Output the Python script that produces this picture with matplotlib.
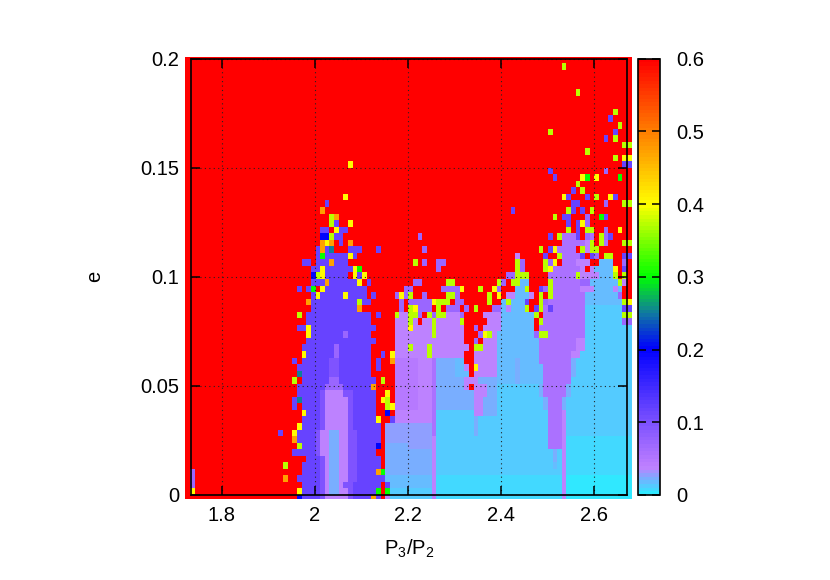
import numpy as np
import matplotlib
matplotlib.use("Agg")
import matplotlib.pyplot as plt
from matplotlib.colors import LinearSegmentedColormap, Normalize

plt.rcParams['font.family'] = ['Liberation Sans', 'DejaVu Sans']
plt.rcParams['mathtext.fontset'] = 'custom'
plt.rcParams['mathtext.rm'] = 'Liberation Sans'
plt.rcParams['mathtext.it'] = 'Liberation Sans'

# value of each letter used in the grid rows
LEVELS = {'d': .002, 'f': .006, 'c': .010, 'h': .014, 'a': .018, 'e': .022, 'k': .029,
          'l': .036, 'm': .045, 'p': .058, 'u': .072, 'w': .095, 'v': .115,
          'b': .2, 'B': .25, 'G': .3, 'g': .37, 'y': .4, 'o': .47, 'r': .6}

# cells per row, from top row to bottom row; "a-bX" = columns a..b have level X,
# later entries win; anything unlisted is the 0.6 (red) level
ROWS = [
 "", "81g", "", "", "", "84g", "", "", "92g", "91v", "93g", "78g 92v", "90v 92g",
 "94-95g", "86g", "92g 94-95y", "35y 94-95v", "78v 90u",
 "79v 85y 86G 88y 93G", "84g", "83v 85g", "34y 81y 82v 86v 88g 91y 92v",
 "30v 83-84v 90u 94-95g", "29o 70v 82g 83v 85v 87g",
 "31g 32o 79g 81-82v 86u 89G 90v", "31g 32v 35y 82v 84v 85y 86u",
 "29-30v 32y 33-34v 82g 84v 86-87g 90u 93y",
 "29-30b 31g 32-33v 50u 78v 80g 81-83p 84v 86u 87p 89g 90u 91v",
 "29o 30y 31o 33v 35o 81-85p 86l 87g 89g 90p 94-95g",
 "28v 29o 30v 31B 35-37v 41v 51u 76g 78v 79y 80-83p 85g 86l 87-88g",
 "28v 29G 30-34v 35y 36v 71l 77v 80g 81-84p 85v 87v 88u 90-91g 94-95v",
 "25-26v 28-30v 31o 32-34v 49g 51u 54-55u 71g 72u 77g 78u 79y 81-83p 84-86l 89-91a 94u",
 "27-28v 29y 30-35v 36y 37G 54u 71g 72u 77g 78y 79-84p 85l 87l 88-91a 92y 94v",
 "27b 28g 29y 30-34v 36y 37v 38y 69-70u 71-73g 78-83p 84g 85-88l 89-91a 92g 94g",
 "27-29v 30o 31-36v 37y 39v 49-50u 56-57g 67g 68u 70-71g 72-73a 78g 79-84p 85-86u 87-92a 93g 94l",
 "24v 26v 27G 29y 30-38v 47-48u 55-58u 59y 63g 66y 67u 71-72a 73g 76v 77u 78g 79-84p 85-87l 88-91a 92l 93a",
 "27v 28y 29-38v 34y 40v 45u 46y 47u 48g 51u 56-57g 58u 65g 67y 69-70l 71-73a 74l 76g 78g 79-85p 86-92a 93u",
 "26o 27-36v 37g 38-39v 46u 48-52u 53y 54-56g 58-59u 65g 68a 69g 70-72a 73v 76g 77u 78-85p 86-93a 94g 95y",
 "27-36v 37o 46u 48g 49y 50-52u 54g 56-58u 60u 62g 66-67u 68a 69l 70-72a 73g 75v 76g 77p 78v 79-85p 86-93h 94-95v",
 "24g 26-39v 41v 45g 46-47l 48-49g 50u 52g 53u 54-55g 56-58l 59u 64-67l 68-74a 75g 77-85p 86-93h 94-95g",
 "26-39v 45-47l 48g 49l 51-52l 53g 54-58l 59g 65-67l 68-74a 76g 77-85p 86-93h 94-95u",
 "24-25v 26y 27-40v 45-47l 48y 49-52l 53g 54-59l 62u 64-67l 68-74a 76-85p 86-95h",
 "26y 27-39v 34u 45-52l 53g 54-59l 63u 64y 65g 66l 67-74a 75u 76-77g 78-85p 86-95h",
 "26-40v 45-59l 62u 64-66l 67-75a 76-83p 84-85l 86-95h",
 "25-39v 32u 45-47l 48g 49-51l 52g 53-60l 62-63g 64-66l 67-75a 76-83p 84-85l 86-95h",
 "25y 26-39v 32u 42v 44y 45-51l 52g 53-59l 62-66l 67-75a 76-82p 83-84l 85-95h",
 "23v 25-39v 31-32w 41v 44o 45-49m 50-52l 53p 54-57e 58-59a 62-66l 67-75a 71e 76-82p 83e 84-95h",
 "24-39v 31-32w 41v 45-49m 50-52l 53p 54-57e 58-59a 60l 62y 63-66l 67-76a 71e 77-82p 83e 84-95h",
 "24B 25-39v 31-32w 45-49m 50-52l 53p 54-57e 58-60a 62-66l 67-76a 71e 77-82p 83e 84-95h",
 "23g 25-40v 31-32u 42g 45-49m 50-52l 53p 54-59e 60-62l 63-66e 67-76a 71e 77-82p 83-95h",
 "24-39v 30-33u 40o 45-49m 50-52l 53p 54-59e 60l 62-64l 65-66e 67-75h 76e 77-81p 82e 83-95c",
 "24-40v 29-35w 30-33l 43y 45-49m 50-52l 53p 54-61e 62-64l 65-66e 67-75h 76e 77-81p 82e 83-95c",
 "23v 24B 25-40v 29-35w 30-34l 42y 43g 45-49m 50-52l 53p 54-61e 62-63l 64-66e 67-77h 77e 78-80p 81e 82-95c",
 "23v 25v 26-40v 29-35w 30-34l 43g 44y 45-49m 50-52l 53p 54-61e 62-63l 64-66e 67-77h 77e 78-80p 81e 82-95c",
 "25y 26-40v 29-35w 30-34l 43b 45-52l 53p 54-61h 62-63l 64-66e 67-77h 78-80p 81l 82-95c",
 "25-40v 29-35w 30-34l 41y 44v 45-52l 53p 54-77h 62e 78-80p 81l 82-95c",
 "24y 25-41v 29-35w 30-34l 43-52k 53p 54-77h 62e 78-80p 81l 82-95c",
 "20v 23y 24-41v 28-36w 29-34l 31-32e 43-52k 53p 54-77h 62e 78-80p 81l 82-95c",
 "23o 24-41v 28-36w 29-34l 31-32e 43-52k 53l 54-77c 78-80p 81l 82-95f",
 "24g 25-40v 41b 28-36w 29-34l 31-32e 43-47e 48-52k 53l 54-77c 78-80p 81l 82-95f",
 "23-40v 28-36w 29-34l 31-32e 43-52e 53l 54-80c 79e 81l 82-95f",
 "26-41v 29-36w 30-34l 31-32e 43-52e 53l 54-80c 79e 81l 82-95f",
 "21g 25-41v 29-36w 30-34l 31-32e 43-52e 53l 54-80c 79a 81l 82-95f",
 "1u 25-40v 41o 42G 29-36w 30-34l 31-32e 43-52e 53l 54-80c 81l 82-95f",
 "1u 21o 24-41v 29-36w 30-34l 31-32e 42v 43-52a 53l 54-80f 81l 82-95d",
 "1u 25-41v 29-35w 30-33l 31-32e 43v 44-52a 53l 54-80f 81l 82-95d",
 "1y 24y 25-41v 29-35w 30-34l 31-32e 41G 43G 44-52h 53l 54-80f 81l 82-95d",
 "24b 25-39v 29-35w 30-34l 40o 41v 43l 44-52h 53m 54-80f 81l 82-95d",
]

X_TICKS = [1.8, 2.0, 2.2, 2.4, 2.6]
X_LABELS = ['1.8', '2', '2.2', '2.4', '2.6']
Y_TICKS = [0, 0.05, 0.1, 0.15, 0.2]
Y_LABELS = ['0', '0.05', '0.1', '0.15', '0.2']
C_TICKS = [0, 0.1, 0.2, 0.3, 0.4, 0.5, 0.6]
C_LABELS = ['0', '0.1', '0.2', '0.3', '0.4', '0.5', '0.6']

N_COLS = 96
grid = np.full((len(ROWS), N_COLS), LEVELS['r'])
for i, row in enumerate(ROWS):
    j = len(ROWS) - 1 - i
    for tok in row.split():
        lvl = LEVELS[tok[-1]]
        span = tok[:-1].split('-')
        a = int(span[0])
        b = int(span[-1])
        grid[j, a:b + 1] = lvl

x_edges = 1.722 + 0.00998 * np.arange(N_COLS + 1)
y_edges = np.concatenate([[-0.002], 0.003 * np.arange(len(ROWS))])

stops = [(0.0, '#30e8ff'), (0.02, '#78aeff'), (0.036, '#c080ff'), (0.1, '#7a50ff'),
         (0.2, '#0000ff'), (0.25, '#107aa0'), (0.3, '#00ff00'), (0.37, '#b0ff00'),
         (0.4, '#ffff00'), (0.5, '#ff8000'), (0.6, '#ff0000')]
cmap = LinearSegmentedColormap.from_list('pal', [(v / 0.6, c) for v, c in stops], N=120)
norm = Normalize(0, 0.6)

W, H = 830, 580
fig = plt.figure(figsize=(W / 100, H / 100), dpi=100)
L, R, T, B = 190.5, 627.2, 58.7, 495.0
ax = fig.add_axes([L / W, 1 - B / H, (R - L) / W, (B - T) / H])
mesh = ax.pcolormesh(x_edges, y_edges, grid, cmap=cmap, norm=norm, clip_on=False,
                     linewidth=0, rasterized=True)
ax.set_xlim(1.733, 2.6707)
ax.set_ylim(0, 0.2)
ax.set_xticks(X_TICKS)
ax.set_xticklabels(X_LABELS)
ax.set_yticks(Y_TICKS)
ax.set_yticklabels(Y_LABELS)
ax.set_axisbelow(False)
ax.grid(True, color='#222222', linestyle=(0, (1, 3)), linewidth=0.8)
ax.tick_params(direction='in', length=6.5, width=1.1, top=True, right=True,
               labelsize=14.5, pad=8, color='black')
for s in ax.spines.values():
    s.set_linewidth(1.2)
    s.set_color('black')
    s.set_zorder(5)
ax.set_xlabel(r'P$_{3}$/P$_{2}$', fontsize=14.5, labelpad=9)
ax.set_ylabel('e', fontsize=14.5, labelpad=26)

CL, CR = 637.6, 659.5
cax = fig.add_axes([CL / W, 1 - B / H, (CR - CL) / W, (B - T) / H])
cb = fig.colorbar(mesh, cax=cax)
cb.set_ticks(C_TICKS)
cb.set_ticklabels(C_LABELS)
cax.tick_params(axis='y', direction='in', length=5.5, width=1.1, left=True, right=True,
                labelleft=False, labelright=True, labelsize=14.5, pad=12)
cb.outline.set_linewidth(1.2)

fig.savefig('out.png', dpi=100)
